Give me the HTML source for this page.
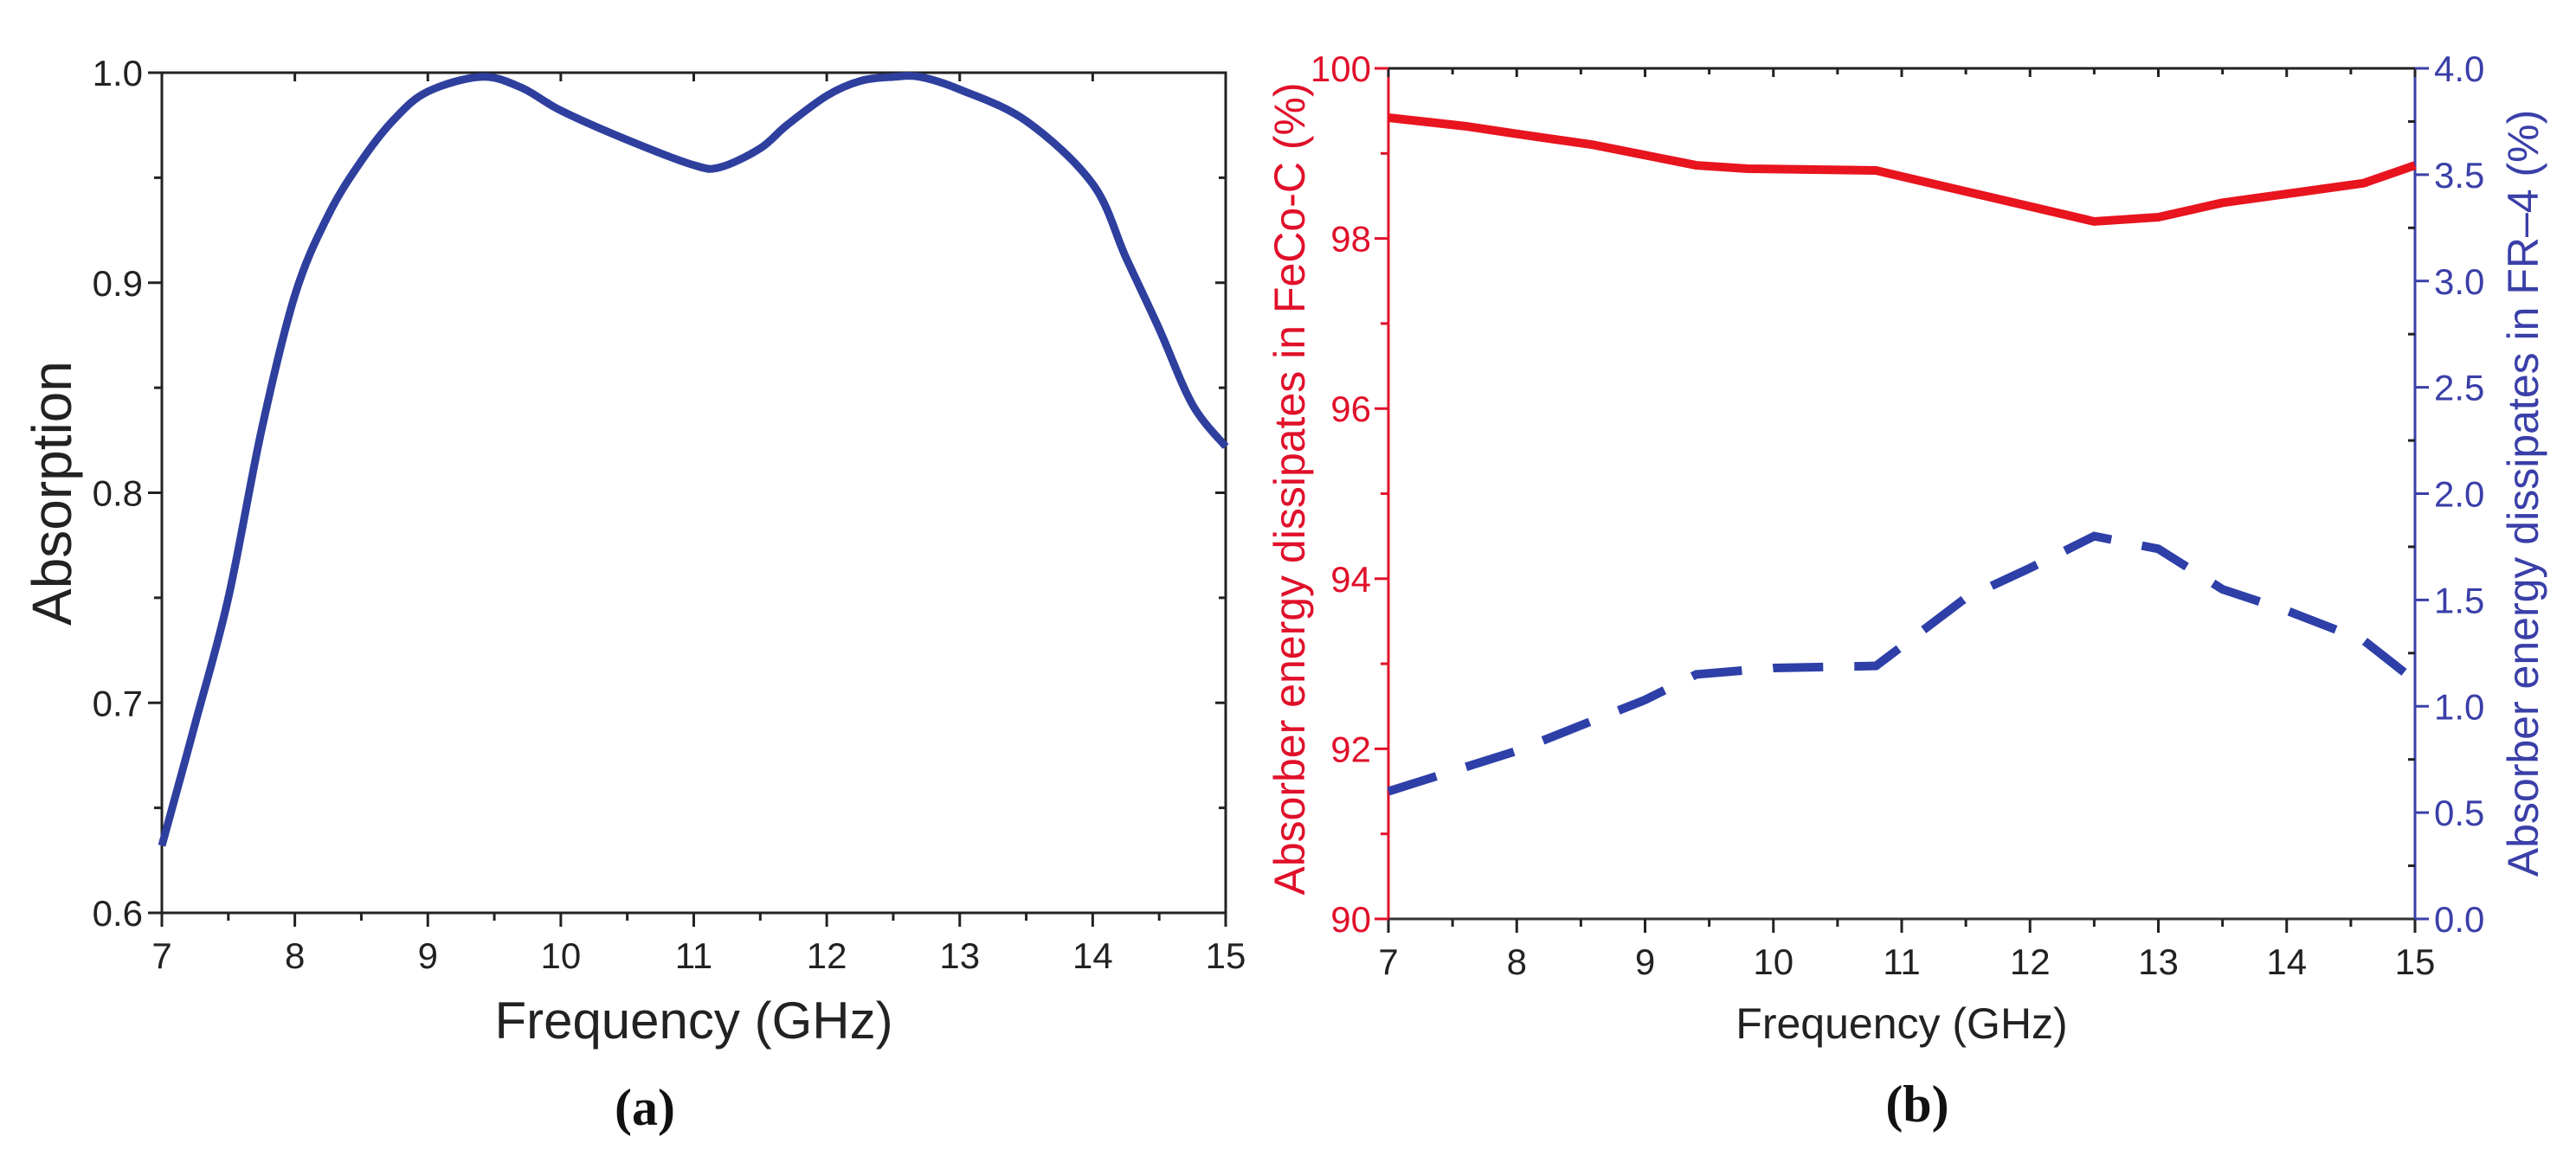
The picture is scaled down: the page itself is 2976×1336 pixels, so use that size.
<!DOCTYPE html>
<html><head><meta charset="utf-8"><style>
html,body{margin:0;padding:0;background:#fff;}
svg{display:block;font-family:"Liberation Sans",sans-serif;}
</style></head><body>
<svg id="chart" width="2976" height="1336" viewBox="0 0 2976 1336" xmlns="http://www.w3.org/2000/svg">
<g id="pa"></g>
<g id="pb"></g>
</svg>
<script>
// Panel (a) data
const freqA = [7, 7.25, 7.5, 7.75, 8, 8.25, 8.5, 8.75, 9, 9.4, 9.7, 10, 10.5, 11, 11.2, 11.5, 11.7, 12, 12.25, 12.5, 12.7, 13, 13.5, 14, 14.25, 14.5, 14.75, 15];
const absorption = [0.632, 0.69, 0.75, 0.83, 0.894, 0.932, 0.958, 0.978, 0.991, 0.998, 0.993, 0.982, 0.968, 0.956, 0.955, 0.964, 0.975, 0.989, 0.996, 0.998, 0.998, 0.992, 0.977, 0.947, 0.912, 0.878, 0.842, 0.822];
const xTicks = [7, 8, 9, 10, 11, 12, 13, 14, 15];
const yTicksA = [0.6, 0.7, 0.8, 0.9, 1.0];
// Panel (b) data
const freqRed = [7, 7.6, 8, 8.6, 9.4, 9.8, 10.8, 12.5, 13, 13.5, 14.6, 15];
const fecoC = [99.42, 99.32, 99.23, 99.1, 98.86, 98.82, 98.8, 98.2, 98.25, 98.42, 98.65, 98.86];
const freqBlue = [7, 8, 9, 9.4, 10, 10.8, 11.5, 12, 12.5, 13, 13.5, 14, 14.6, 15];
const fr4 = [0.6, 0.79, 1.03, 1.15, 1.18, 1.19, 1.51, 1.65, 1.8, 1.74, 1.55, 1.45, 1.31, 1.12];
const yTicksL = [90, 92, 94, 96, 98, 100];
const yTicksR = [0, 0.5, 1, 1.5, 2, 2.5, 3, 3.5, 4];

const NS = "http://www.w3.org/2000/svg";
function mk(parent, tag, attrs, text) {
  const e = document.createElementNS(NS, tag);
  for (const k in attrs) e.setAttribute(k, attrs[k]);
  if (text !== undefined) e.textContent = text;
  parent.appendChild(e);
  return e;
}
function smooth(pts) {
  let d = "M" + pts[0][0] + "," + pts[0][1];
  for (let i = 0; i < pts.length - 1; i++) {
    const p0 = pts[Math.max(0, i - 1)], p1 = pts[i], p2 = pts[i + 1], p3 = pts[Math.min(pts.length - 1, i + 2)];
    const c1x = p1[0] + (p2[0] - p0[0]) / 6, c1y = p1[1] + (p2[1] - p0[1]) / 6;
    const c2x = p2[0] - (p3[0] - p1[0]) / 6, c2y = p2[1] - (p3[1] - p1[1]) / 6;
    d += " C" + c1x + "," + c1y + " " + c2x + "," + c2y + " " + p2[0] + "," + p2[1];
  }
  return d;
}

// ---------- Panel A ----------
const pa = document.getElementById("pa");
const A = {l: 187, r: 1416, t: 84, b: 1055};
const xa = f => A.l + (f - 7) / 8 * (A.r - A.l);
const ya = v => A.b - (v - 0.6) / 0.4 * (A.b - A.t);
const frameA = mk(pa, "rect", {x: A.l, y: A.t, width: A.r - A.l, height: A.b - A.t, fill: "none", stroke: "#222", "stroke-width": 3});


for (let i = 0; i < xTicks.length; i++) {
  const x = xa(xTicks[i]);
  const t = mk(pa, "line", {x1: x, x2: x, y1: A.b, y2: A.b + 16, stroke: "#222", "stroke-width": 3});
  
  
  mk(pa, "line", {x1: x, x2: x, y1: A.t, y2: A.t + 10, stroke: "#222", "stroke-width": 3});
  if (i < xTicks.length - 1) {
    const xm = xa(xTicks[i] + 0.5);
    mk(pa, "line", {x1: xm, x2: xm, y1: A.b, y2: A.b + 9, stroke: "#222", "stroke-width": 3});
  }
  const lb = mk(pa, "text", {x: x, y: A.b + 64, "font-size": 42, "text-anchor": "middle", fill: "#222"}, String(xTicks[i]));
  
  
}
for (let i = 0; i < yTicksA.length; i++) {
  const y = ya(yTicksA[i]);
  mk(pa, "line", {x1: A.l - 16, x2: A.l, y1: y, y2: y, stroke: "#222", "stroke-width": 3});
  mk(pa, "line", {x1: A.r - 12, x2: A.r, y1: y, y2: y, stroke: "#222", "stroke-width": 3});
  if (i < yTicksA.length - 1) {
    const ym = ya(yTicksA[i] + 0.05);
    mk(pa, "line", {x1: A.l - 9, x2: A.l, y1: ym, y2: ym, stroke: "#222", "stroke-width": 3});
    mk(pa, "line", {x1: A.r - 8, x2: A.r, y1: ym, y2: ym, stroke: "#222", "stroke-width": 3});
  }
  const lb = mk(pa, "text", {x: A.l - 22, y: y + 15, "font-size": 42, "text-anchor": "end", fill: "#222"}, yTicksA[i].toFixed(1));
  
  
}
const curveA = mk(pa, "path", {d: smooth(freqA.map((f, i) => [xa(f), ya(absorption[i])])), fill: "none", stroke: "#2e3f9e", "stroke-width": 9, "stroke-linejoin": "round"});


const yta = mk(pa, "text", {x: 0, y: 0, "font-size": 64, "text-anchor": "middle", fill: "#222", transform: "translate(82,570) rotate(-90)"}, "Absorption");


const xta = mk(pa, "text", {x: (A.l + A.r) / 2, y: 1200, "font-size": 60, "text-anchor": "middle", fill: "#222"}, "Frequency (GHz)");


const capA = mk(pa, "text", {x: 745, y: 1300, "font-size": 60, "font-weight": "bold", "font-family": "Liberation Serif, serif", "text-anchor": "middle", fill: "#111"}, "(a)");



// ---------- Panel B ----------
const pb = document.getElementById("pb");
const B = {l: 1604, r: 2790, t: 79, b: 1062};
const xb = f => B.l + (f - 7) / 8 * (B.r - B.l);
const ybl = v => B.b - (v - 90) / 10 * (B.b - B.t);
const ybr = v => B.b - v / 4 * (B.b - B.t);
mk(pb, "line", {x1: B.l, x2: B.r, y1: B.t, y2: B.t, stroke: "#222", "stroke-width": 3});
mk(pb, "line", {x1: B.l, x2: B.r, y1: B.b, y2: B.b, stroke: "#333", "stroke-width": 3});
const axL = mk(pb, "line", {x1: B.l, x2: B.l, y1: B.t, y2: B.b, stroke: "#e0102a", "stroke-width": 3});


const axR = mk(pb, "line", {x1: B.r, x2: B.r, y1: B.t, y2: B.b, stroke: "#3a3fa8", "stroke-width": 3});


for (let i = 0; i < xTicks.length; i++) {
  const x = xb(xTicks[i]);
  mk(pb, "line", {x1: x, x2: x, y1: B.b, y2: B.b + 16, stroke: "#222", "stroke-width": 3});
  mk(pb, "line", {x1: x, x2: x, y1: B.t, y2: B.t + 10, stroke: "#222", "stroke-width": 3});
  if (i < xTicks.length - 1) {
    const xm = xb(xTicks[i] + 0.5);
    mk(pb, "line", {x1: xm, x2: xm, y1: B.b, y2: B.b + 9, stroke: "#222", "stroke-width": 3});
    mk(pb, "line", {x1: xm, x2: xm, y1: B.t, y2: B.t + 7, stroke: "#222", "stroke-width": 3});
  }
  const lb = mk(pb, "text", {x: x, y: B.b + 64, "font-size": 42, "text-anchor": "middle", fill: "#222"}, String(xTicks[i]));
  
  
}
for (let i = 0; i < yTicksL.length; i++) {
  const y = ybl(yTicksL[i]);
  mk(pb, "line", {x1: B.l - 16, x2: B.l, y1: y, y2: y, stroke: "#e0102a", "stroke-width": 3});
  if (i < yTicksL.length - 1) {
    const ym = ybl(yTicksL[i] + 1);
    mk(pb, "line", {x1: B.l - 9, x2: B.l, y1: ym, y2: ym, stroke: "#e0102a", "stroke-width": 3});
  }
  const lb = mk(pb, "text", {x: B.l - 20, y: y + 15, "font-size": 42, "text-anchor": "end", fill: "#e0102a"}, String(yTicksL[i]));
  
  
}
for (let i = 0; i < yTicksR.length; i++) {
  const y = ybr(yTicksR[i]);
  mk(pb, "line", {x1: B.r, x2: B.r + 16, y1: y, y2: y, stroke: "#3a3fa8", "stroke-width": 3});
  if (i < yTicksR.length - 1) {
    const ym = ybr(yTicksR[i] + 0.25);
    mk(pb, "line", {x1: B.r - 8, x2: B.r, y1: ym, y2: ym, stroke: "#222", "stroke-width": 3});
  }
  const lb = mk(pb, "text", {x: B.r + 22, y: y + 15, "font-size": 42, "text-anchor": "start", fill: "#3a3fa8"}, yTicksR[i].toFixed(1));
  
  
}
const redLine = mk(pb, "polyline", {points: freqRed.map((f, i) => xb(f) + "," + ybl(fecoC[i])).join(" "), fill: "none", stroke: "#e8141e", "stroke-width": 10, "stroke-linejoin": "round"});


const blueLine = mk(pb, "polyline", {points: freqBlue.map((f, i) => xb(f) + "," + ybr(fr4[i])).join(" "), fill: "none", stroke: "#2e3fa8", "stroke-width": 10, "stroke-dasharray": "58 36"});


const ytl = mk(pb, "text", {x: 0, y: 0, "font-size": 50, "text-anchor": "middle", fill: "#e0102a", transform: "translate(1507,565) rotate(-90)"}, "Absorber energy dissipates in FeCo-C (%)");


const ytr = mk(pb, "text", {x: 0, y: 0, "font-size": 50, "text-anchor": "middle", fill: "#3a3fa8", transform: "translate(2932,570) rotate(-90)"}, "Absorber energy dissipates in FR–4 (%)");


const xtb = mk(pb, "text", {x: (B.l + B.r) / 2, y: 1200, "font-size": 50, "text-anchor": "middle", fill: "#222"}, "Frequency (GHz)");


const capB = mk(pb, "text", {x: 2215, y: 1296, "font-size": 60, "font-weight": "bold", "font-family": "Liberation Serif, serif", "text-anchor": "middle", fill: "#111"}, "(b)");


</script>
</body></html>
